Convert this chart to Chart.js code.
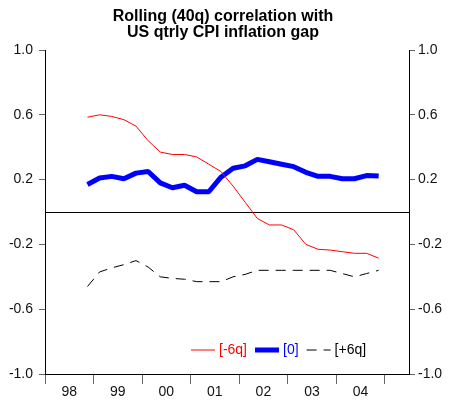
<!DOCTYPE html>
<html>
<head>
<meta charset="utf-8">
<script src="https://cdn.jsdelivr.net/npm/chart.js@4"></script>
<style>
  html, body { margin: 0; padding: 0; background: #fff; }
</style>
</head>
<body>
<canvas id="myChart" width="456" height="402"></canvas>
<script>
// quarterly observations, 1998Q4 - 2004Q4
const quarters = [
    '1998Q4',
    '1999Q1', '1999Q2', '1999Q3', '1999Q4',
    '2000Q1', '2000Q2', '2000Q3', '2000Q4',
    '2001Q1', '2001Q2', '2001Q3', '2001Q4',
    '2002Q1', '2002Q2', '2002Q3', '2002Q4',
    '2003Q1', '2003Q2', '2003Q3', '2003Q4',
    '2004Q1', '2004Q2', '2004Q3', '2004Q4'
];
const lagMinus6 = [0.585, 0.60, 0.59, 0.57, 0.53, 0.44, 0.37, 0.355, 0.355, 0.34, 0.295, 0.25, 0.16,
    0.06, -0.04, -0.08, -0.08, -0.11, -0.20, -0.23, -0.235, -0.245, -0.255, -0.255, -0.285];
const lagZero = [0.17, 0.21, 0.22, 0.205, 0.24, 0.25, 0.18, 0.15, 0.165, 0.125, 0.125, 0.215, 0.27,
    0.285, 0.325, 0.31, 0.295, 0.28, 0.245, 0.22, 0.22, 0.205, 0.205, 0.225, 0.222];
const leadPlus6 = [-0.46, -0.37, -0.345, -0.325, -0.30, -0.34, -0.40, -0.41, -0.415, -0.43, -0.43, -0.43, -0.40,
    -0.385, -0.36, -0.36, -0.36, -0.36, -0.36, -0.36, -0.36, -0.38, -0.40, -0.38, -0.36];
const yearLabels = ['98', '99', '00', '01', '02', '03', '04'];
const yTicks = [-1.0, -0.6, -0.2, 0, 0.2, 0.6, 1.0];

const fontFamily = '"Liberation Sans", Arial, sans-serif';

// quarter label -> position in quarters since 1998Q1 (mid-quarter)
function quarterPos(q) {
    const year = parseInt(q.slice(0, 4));
    const qtr = parseInt(q.slice(5));
    return (year - 1998) * 4 + (qtr - 1) + 0.5;
}

function toPoints(values) {
    return values.map(function (v, i) {
        return { x: quarterPos(quarters[i]), y: v };
    });
}

const insideLegend = {
    id: 'insideLegend',
    afterDatasetsDraw(chart) {
        const ctx = chart.ctx;
        const area = chart.chartArea;
        const y = area.bottom - 24;
        let x = area.left + 146;
        ctx.save();
        ctx.font = '14px ' + fontFamily;
        ctx.textBaseline = 'middle';
        chart.data.datasets.forEach(function (ds) {
            ctx.beginPath();
            ctx.strokeStyle = ds.borderColor;
            ctx.lineWidth = ds.borderWidth;
            ctx.setLineDash(ds.borderDash || []);
            ctx.moveTo(x, y);
            ctx.lineTo(x + 24, y);
            ctx.stroke();
            ctx.setLineDash([]);
            x += 28;
            ctx.fillStyle = ds.legendColor;
            ctx.fillText(ds.label, x, y);
            x += ctx.measureText(ds.label).width + 8;
        });
        ctx.restore();
    }
};

function yAxis(position, width, padding) {
    return {
        type: 'linear',
        position: position,
        min: -1,
        max: 1,
        afterBuildTicks: function (scale) {
            scale.ticks = yTicks.map(function (v) { return { value: v }; });
        },
        afterFit: function (scale) { scale.width = width; },
        ticks: {
            color: '#111',
            padding: padding,
            font: { family: fontFamily, size: 14 },
            callback: function (v) { return v === 0 ? '' : v.toFixed(1); }
        },
        grid: {
            drawOnChartArea: position === 'left',
            tickLength: 6,
            color: function (c) { return c.tick && c.tick.value === 0 ? '#000' : 'rgba(0,0,0,0)'; },
            tickColor: function (c) { return c.tick && c.tick.value === 0 ? 'rgba(0,0,0,0)' : '#666'; },
            lineWidth: 1
        },
        border: { display: true, color: '#000', width: 1 }
    };
}

const config = {
    type: 'line',
    data: {
        datasets: [
            {
                label: '[-6q]',
                data: toPoints(lagMinus6),
                borderColor: '#ff0000',
                legendColor: '#ff0000',
                borderWidth: 1,
                pointRadius: 0
            },
            {
                label: '[0]',
                data: toPoints(lagZero),
                borderColor: '#0000ff',
                legendColor: '#0000ff',
                borderWidth: 5,
                borderJoinStyle: 'bevel',
                pointRadius: 0
            },
            {
                label: '[+6q]',
                data: toPoints(leadPlus6),
                borderColor: '#000000',
                legendColor: '#000000',
                borderWidth: 1,
                borderDash: [10, 7],
                pointRadius: 0
            }
        ]
    },
    options: {
        responsive: false,
        animation: false,
        devicePixelRatio: 1,
        layout: { padding: { left: 0, right: 10, top: 0, bottom: 0 } },
        plugins: {
            legend: { display: false },
            tooltip: { enabled: false },
            title: {
                display: true,
                text: ['Rolling (40q) correlation with', 'US qtrly CPI inflation gap'],
                color: '#000',
                font: { family: fontFamily, size: 16, weight: 'bold', lineHeight: 1.0 },
                padding: { top: 9, bottom: 9 }
            }
        },
        scales: {
            x: {
                type: 'linear',
                min: 0,
                max: 30,
                afterBuildTicks: function (scale) {
                    const t = [];
                    for (let v = 0; v <= 28; v += 2) t.push({ value: v });
                    scale.ticks = t;
                },
                afterFit: function (scale) { scale.height = 28; },
                ticks: {
                    autoSkip: false,
                    maxRotation: 0,
                    color: '#111',
                    padding: 0,
                    font: { family: fontFamily, size: 14 },
                    callback: function (v) {
                        return (v - 2) % 4 === 0 ? yearLabels[(v - 2) / 4] : '';
                    }
                },
                grid: {
                    drawOnChartArea: false,
                    tickLength: 10,
                    tickColor: function (c) { return c.tick && c.tick.value % 4 === 0 ? '#666' : 'rgba(0,0,0,0)'; }
                },
                border: { display: true, color: '#000', width: 1 }
            },
            y: yAxis('left', 45, 6),
            y2: yAxis('right', 37, 3)
        }
    },
    plugins: [insideLegend]
};

const myChart = new Chart(document.getElementById('myChart'), config);
</script>
</body>
</html>
